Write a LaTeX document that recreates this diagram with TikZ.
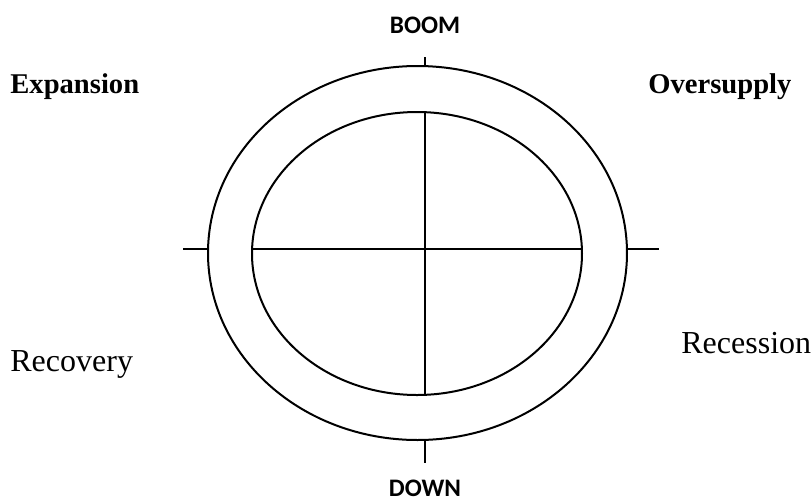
\documentclass[tikz,border=0pt]{standalone}
\usepackage{fontspec}
\setmainfont{Liberation Serif}
\newfontfamily\calibri{Carlito}

\begin{document}
\begin{tikzpicture}[x=0.5pt, y=-0.5pt,
    ring/.style={line width=1pt},
    axis/.style={line width=0.8pt},
    phase/.style={font=\fontsize{16}{19}\selectfont, inner sep=0pt, anchor=base west},
    phasebold/.style={phase, font=\fontsize{14.3}{17}\selectfont\bfseries},
    marker/.style={font=\calibri\fontsize{12.6}{15}\selectfont\bfseries, inner sep=0pt, anchor=base}]
  \useasboundingbox (0,0) rectangle (811,500);

  % two rings
  \draw[ring] (417.5,253) ellipse [x radius=209.5, y radius=187];
  \draw[ring] (417,253.5) ellipse [x radius=165, y radius=141.5];

  % cross inside the inner ring
  \coordinate (in-n) at (425,112);
  \coordinate (in-s) at (425,395);
  \coordinate (in-w) at (252,249);
  \coordinate (in-e) at (582,249);
  \draw[axis] (in-n) -- (in-s);
  \draw[axis] (in-w) -- (in-e);

  % ticks on the outer ring
  \coordinate (out-n) at (425,66);
  \coordinate (out-s) at (425,440);
  \coordinate (out-w) at (208,249);
  \coordinate (out-e) at (627,249);
  \coordinate (tick-n) at (425,57);
  \coordinate (tick-s) at (425,463);
  \coordinate (tick-w) at (183,249);
  \coordinate (tick-e) at (659,249);
  \foreach \d in {n, s, w, e}
    \draw[ring] (out-\d) -- (tick-\d);

  % labels
  \node[marker] (boom) at (425,33) {BOOM};
  \node[marker] (down) at (425,496) {DOWN};
  \node[phasebold] (expansion) at (10,93) {Expansion};
  \node[phasebold] (oversupply) at (648,93) {Oversupply};
  \node[phase] (recovery) at (10,371) {Recovery};
  \node[phase] (recession) at (681,353) {Recession};
\end{tikzpicture}
\end{document}
